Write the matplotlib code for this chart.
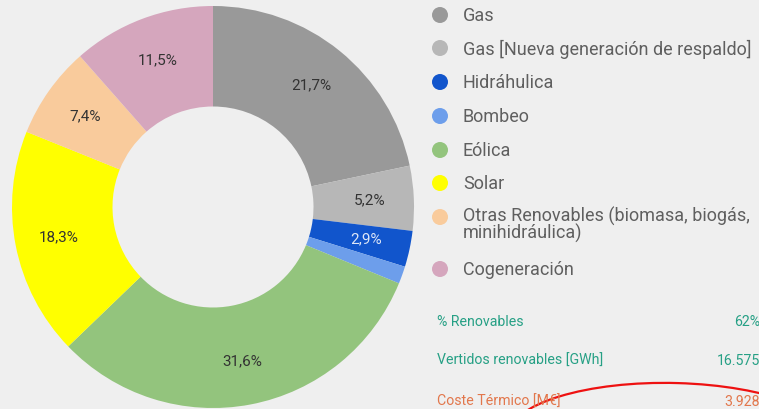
import matplotlib
matplotlib.use("Agg")
import matplotlib.pyplot as plt
import numpy as np
from matplotlib.patches import Ellipse

# generación por tecnología (%)
tecnologias = ["Gas", "Gas [Nueva generación de respaldo]", "Hidráhulica", "Bombeo",
               "Eólica", "Solar", "Otras Renovables (biomasa, biogás,\nminihidráulica)",
               "Cogeneración"]
porcentajes = [21.7, 5.2, 2.9, 1.4, 31.6, 18.3, 7.4, 11.5]
etiquetas = ["21,7%", "5,2%", "2,9%", "", "31,6%", "18,3%", "7,4%", "11,5%"]
colores = ["#999999", "#b7b7b7", "#1155cc", "#6d9eeb", "#93c47d", "#ffff00", "#f9cb9c", "#d5a6bd"]
color_etiqueta = ["#333333", "#333333", "#dde6f7", "#333333", "#333333", "#333333", "#333333", "#333333"]

# indicadores
indicadores = ["% Renovables", "Vertidos renovables [GWh]", "Coste Térmico [M€]"]
valores_ind = ["62%", "16.575", "3.928"]
colores_ind = ["#26a085", "#26a085", "#e2774c"]

W, H = 759, 409
fondo = "#efefef"
plt.rcParams["font.family"] = ["Roboto", "DejaVu Sans"]

fig = plt.figure(figsize=(W / 100, H / 100), dpi=100)
fig.patch.set_facecolor(fondo)

def fx(px):
    return px / W

def fy(py):
    return 1 - py / H

# anillo
cx, cy, r = 213, 207, 201
ax = fig.add_axes([fx(cx - r), fy(cy + r), 2 * r / W, 2 * r / H])
ax.set_facecolor(fondo)
wedges, _ = ax.pie(porcentajes, colors=colores, startangle=90, counterclock=False,
                   radius=1, wedgeprops=dict(width=0.5, linewidth=0))
for w, txt, c in zip(wedges, etiquetas, color_etiqueta):
    if not txt:
        continue
    ang = np.deg2rad((w.theta1 + w.theta2) / 2)
    ax.text(0.78 * np.cos(ang), 0.78 * np.sin(ang), txt, ha="center", va="center",
            fontsize=11, color=c)
ax.set_xlim(-1, 1)
ax.set_ylim(-1, 1)
ax.set_aspect("equal")
ax.axis("off")

# leyenda
ley_y = [15, 48, 82, 116, 150, 183, 217, 269]
for nombre, col, y in zip(tecnologias, colores, ley_y):
    e = Ellipse((fx(440), fy(y)), 16 / W, 16 / H, transform=fig.transFigure,
                facecolor=col, edgecolor="none")
    fig.patches.append(e)
    if "\n" in nombre:
        fig.text(fx(463), fy(y - 10), nombre, ha="left", va="top",
                 fontsize=13, color="#5f5f5f", linespacing=0.85)
    else:
        fig.text(fx(463), fy(y + 1), nombre, ha="left", va="center",
                 fontsize=13, color="#5f5f5f")

# indicadores
ind_y = [322, 361, 402]
for nombre, val, col, y in zip(indicadores, valores_ind, colores_ind, ind_y):
    fig.text(fx(437), fy(y), nombre, ha="left", va="center", fontsize=10.2, color=col)
    fig.text(fx(760), fy(y), val, ha="right", va="center", fontsize=10.2, color=col)

# trazo rojo
arco = Ellipse((fx(672), fy(440)), 330 / W, 114 / H, angle=-3, transform=fig.transFigure,
               facecolor="none", edgecolor="#ee1111", linewidth=1.6)
fig.patches.append(arco)

fig.savefig("out.png", dpi=100, facecolor=fondo)
